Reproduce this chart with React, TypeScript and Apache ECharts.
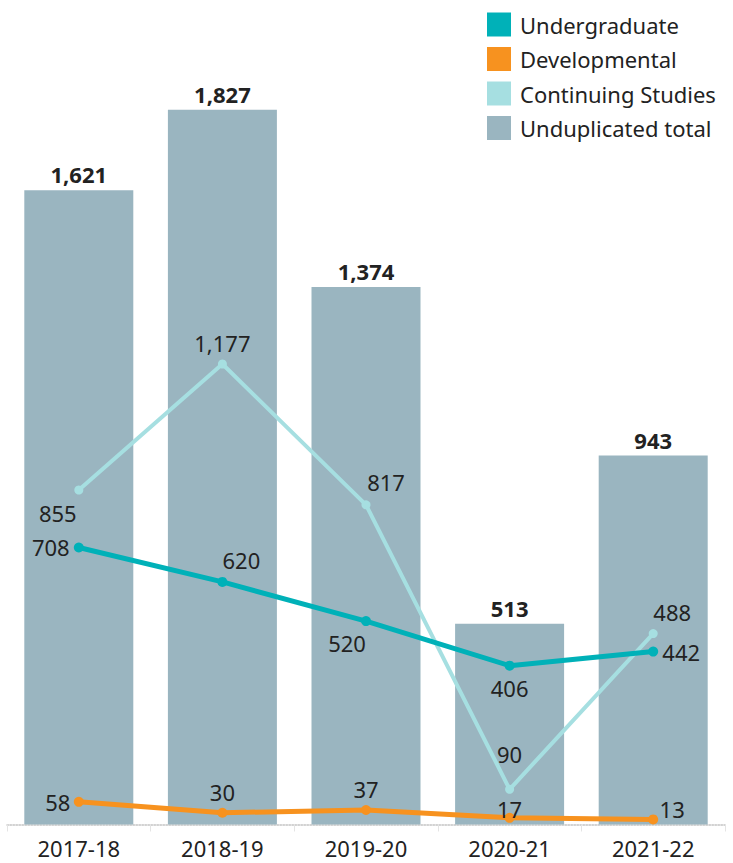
import React, { useEffect, useRef } from "react";
import * as echarts from "echarts";

const categories = ["2017-18", "2018-19", "2019-20", "2020-21", "2021-22"];
const unduplicatedTotal = [1621, 1827, 1374, 513, 943];
const undergraduate = [708, 620, 520, 406, 442];
const developmental = [58, 30, 37, 17, 13];
const continuingStudies = [855, 1177, 817, 90, 488];

// label offsets (styling only)
const contOffsets = [[-21, 23], [0, -21], [20, -23], [0, -35], [19, -22]];
const ugOffsets = [[-28, 0], [19, -22], [-19, 22], [0, 22], [28, 0]];
const devOffsets = [[-21, 0], [0, -21], [0, -21], [0, -9], [19, -10]];

const FONT = "Noto Sans";
const TEXT = "#222222";
const fmt = (v: number) => v.toLocaleString("en-US");

export default function App() {
  const ref = useRef<HTMLDivElement>(null);
  useEffect(() => {
    if (!ref.current) return;
    const chart = echarts.init(ref.current, undefined, { renderer: "svg" });
    const lineData = (vals: number[], offs: number[][]) =>
      vals.map((v, i) => ({
        value: v,
        label: { offset: offs[i] },
      }));
    const lineLabel = {
      show: true,
      position: "inside",
      fontFamily: FONT,
      fontSize: 22,
      color: TEXT,
      formatter: (p: any) => fmt(p.value),
    };
    chart.setOption({
      animation: false,
      textStyle: { fontFamily: FONT },
      grid: { left: 7, right: 8, top: 42, bottom: 38.5 },
      legend: {
        data: ["Undergraduate", "Developmental", "Continuing Studies", "Unduplicated total"],
        orient: "vertical",
        left: 487,
        top: 12.5,
        padding: 0,
        icon: "rect",
        itemWidth: 24,
        itemHeight: 24,
        itemGap: 10.5,
        textStyle: { fontFamily: FONT, fontSize: 22, color: TEXT, padding: [0, 0, 0, 4] },
      },
      xAxis: {
        type: "category",
        data: categories,
        boundaryGap: true,
        axisLine: { show: true, lineStyle: { color: "#c4c4c4", type: "dotted", width: 1.5 } },
        axisTick: { show: true, length: 7, lineStyle: { color: "#e4e4e4" } },
        axisLabel: { fontFamily: FONT, fontSize: 22, color: TEXT, margin: 12 },
        splitLine: { show: false },
      },
      yAxis: {
        type: "value",
        min: 0,
        max: 2000,
        show: false,
        splitLine: { show: false },
      },
      series: [
        {
          name: "Unduplicated total",
          type: "bar",
          data: unduplicatedTotal,
          barWidth: 109,
          itemStyle: { color: "#9ab5c0" },
          label: {
            show: true,
            position: "top",
            distance: 5,
            fontFamily: FONT,
            fontSize: 22,
            fontWeight: "bold",
            color: TEXT,
            formatter: (p: any) => fmt(p.value),
          },
          z: 1,
        },
        {
          name: "Continuing Studies",
          type: "line",
          data: lineData(continuingStudies, contOffsets),
          symbol: "circle",
          symbolSize: 9,
          itemStyle: { color: "#a6dfe1" },
          lineStyle: { color: "#a6dfe1", width: 4 },
          label: lineLabel,
          z: 3,
        },
        {
          name: "Undergraduate",
          type: "line",
          data: lineData(undergraduate, ugOffsets),
          symbol: "circle",
          symbolSize: 10,
          itemStyle: { color: "#00b1b8" },
          lineStyle: { color: "#00b1b8", width: 5 },
          label: lineLabel,
          z: 4,
        },
        {
          name: "Developmental",
          type: "line",
          data: lineData(developmental, devOffsets),
          symbol: "circle",
          symbolSize: 10,
          itemStyle: { color: "#f7921f" },
          lineStyle: { color: "#f7921f", width: 5 },
          label: lineLabel,
          z: 5,
        },
      ],
    });
    return () => chart.dispose();
  }, []);
  return (
    <div
      ref={ref}
      style={{ position: "fixed", left: 0, top: 0, width: 733, height: 863, background: "#ffffff" }}
    />
  );
}
